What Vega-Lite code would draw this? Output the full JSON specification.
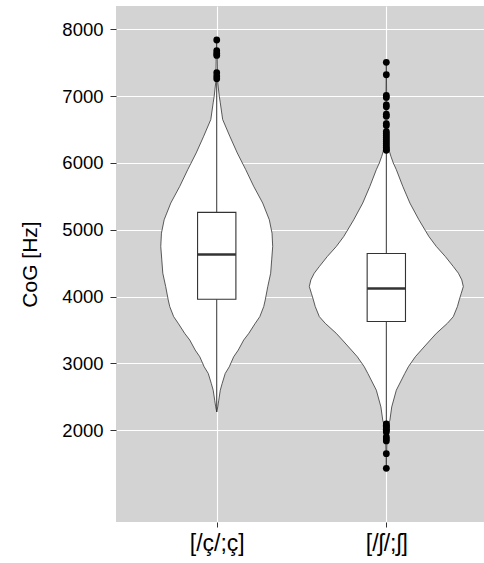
{
  "$schema": "https://vega.github.io/schema/vega-lite/v6.json",
  "width": 368,
  "height": 516,
  "autosize": {"type": "none"},
  "padding": {"left": 116, "top": 6, "right": 0, "bottom": 41},
  "background": "white",
  "config": {
    "font": "Liberation Sans",
    "view": {"fill": "#D3D3D3", "stroke": null},
    "axis": {"domain": false, "grid": true, "gridColor": "white", "gridWidth": 1.1, "tickColor": "#333333", "tickSize": 6, "labelColor": "black", "titleColor": "black", "titleFontWeight": "normal"},
    "axisY": {"labelFontSize": 18.5, "labelPadding": 7, "titleFontSize": 21, "titlePadding": 21},
    "axisX": {"labelFontSize": 23, "labelPadding": 5, "tickSize": 5}
  },
  "datasets": {
    "violin": [
      {"cat": 1, "v": 7850, "lo": 1.0, "hi": 1.0},
      {"cat": 1, "v": 7600, "lo": 0.997, "hi": 1.003},
      {"cat": 1, "v": 7300, "lo": 0.995, "hi": 1.005},
      {"cat": 1, "v": 7200, "lo": 0.994, "hi": 1.006},
      {"cat": 1, "v": 7000, "lo": 0.985, "hi": 1.015},
      {"cat": 1, "v": 6900, "lo": 0.979, "hi": 1.021},
      {"cat": 1, "v": 6650, "lo": 0.965, "hi": 1.035},
      {"cat": 1, "v": 6400, "lo": 0.923, "hi": 1.077},
      {"cat": 1, "v": 6150, "lo": 0.879, "hi": 1.121},
      {"cat": 1, "v": 5900, "lo": 0.829, "hi": 1.171},
      {"cat": 1, "v": 5650, "lo": 0.782, "hi": 1.218},
      {"cat": 1, "v": 5400, "lo": 0.729, "hi": 1.271},
      {"cat": 1, "v": 5150, "lo": 0.690, "hi": 1.310},
      {"cat": 1, "v": 4950, "lo": 0.674, "hi": 1.326},
      {"cat": 1, "v": 4750, "lo": 0.670, "hi": 1.330},
      {"cat": 1, "v": 4550, "lo": 0.676, "hi": 1.324},
      {"cat": 1, "v": 4350, "lo": 0.682, "hi": 1.318},
      {"cat": 1, "v": 4150, "lo": 0.699, "hi": 1.301},
      {"cat": 1, "v": 3950, "lo": 0.714, "hi": 1.286},
      {"cat": 1, "v": 3850, "lo": 0.723, "hi": 1.277},
      {"cat": 1, "v": 3700, "lo": 0.746, "hi": 1.254},
      {"cat": 1, "v": 3600, "lo": 0.773, "hi": 1.227},
      {"cat": 1, "v": 3450, "lo": 0.811, "hi": 1.189},
      {"cat": 1, "v": 3350, "lo": 0.841, "hi": 1.159},
      {"cat": 1, "v": 3200, "lo": 0.873, "hi": 1.127},
      {"cat": 1, "v": 3100, "lo": 0.900, "hi": 1.100},
      {"cat": 1, "v": 2950, "lo": 0.926, "hi": 1.074},
      {"cat": 1, "v": 2850, "lo": 0.950, "hi": 1.050},
      {"cat": 1, "v": 2700, "lo": 0.968, "hi": 1.032},
      {"cat": 1, "v": 2600, "lo": 0.979, "hi": 1.021},
      {"cat": 1, "v": 2450, "lo": 0.988, "hi": 1.012},
      {"cat": 1, "v": 2350, "lo": 0.994, "hi": 1.006},
      {"cat": 1, "v": 2274, "lo": 1.0, "hi": 1.0},
      {"cat": 2, "v": 7500, "lo": 2.0, "hi": 2.0},
      {"cat": 2, "v": 7000, "lo": 1.998, "hi": 2.002},
      {"cat": 2, "v": 6500, "lo": 1.997, "hi": 2.003},
      {"cat": 2, "v": 6300, "lo": 1.994, "hi": 2.006},
      {"cat": 2, "v": 6200, "lo": 1.985, "hi": 2.015},
      {"cat": 2, "v": 6100, "lo": 1.973, "hi": 2.027},
      {"cat": 2, "v": 6000, "lo": 1.959, "hi": 2.041},
      {"cat": 2, "v": 5900, "lo": 1.941, "hi": 2.059},
      {"cat": 2, "v": 5650, "lo": 1.903, "hi": 2.097},
      {"cat": 2, "v": 5400, "lo": 1.861, "hi": 2.139},
      {"cat": 2, "v": 5150, "lo": 1.808, "hi": 2.192},
      {"cat": 2, "v": 4900, "lo": 1.749, "hi": 2.251},
      {"cat": 2, "v": 4750, "lo": 1.705, "hi": 2.295},
      {"cat": 2, "v": 4600, "lo": 1.652, "hi": 2.348},
      {"cat": 2, "v": 4450, "lo": 1.605, "hi": 2.395},
      {"cat": 2, "v": 4350, "lo": 1.575, "hi": 2.425},
      {"cat": 2, "v": 4250, "lo": 1.555, "hi": 2.445},
      {"cat": 2, "v": 4150, "lo": 1.546, "hi": 2.454},
      {"cat": 2, "v": 4050, "lo": 1.558, "hi": 2.442},
      {"cat": 2, "v": 3950, "lo": 1.570, "hi": 2.430},
      {"cat": 2, "v": 3850, "lo": 1.581, "hi": 2.419},
      {"cat": 2, "v": 3700, "lo": 1.605, "hi": 2.395},
      {"cat": 2, "v": 3600, "lo": 1.640, "hi": 2.360},
      {"cat": 2, "v": 3450, "lo": 1.705, "hi": 2.295},
      {"cat": 2, "v": 3350, "lo": 1.741, "hi": 2.259},
      {"cat": 2, "v": 3200, "lo": 1.794, "hi": 2.206},
      {"cat": 2, "v": 3100, "lo": 1.829, "hi": 2.171},
      {"cat": 2, "v": 2950, "lo": 1.870, "hi": 2.130},
      {"cat": 2, "v": 2850, "lo": 1.891, "hi": 2.109},
      {"cat": 2, "v": 2600, "lo": 1.941, "hi": 2.059},
      {"cat": 2, "v": 2350, "lo": 1.968, "hi": 2.032},
      {"cat": 2, "v": 2150, "lo": 1.979, "hi": 2.021},
      {"cat": 2, "v": 2050, "lo": 1.991, "hi": 2.009},
      {"cat": 2, "v": 1900, "lo": 1.996, "hi": 2.004},
      {"cat": 2, "v": 1450, "lo": 2.0, "hi": 2.0}
    ],
    "box": [
      {"cat": 1, "xl": 0.887, "xh": 1.113, "lw": 2274, "q1": 3961, "med": 4631, "q3": 5260, "uw": 7210},
      {"cat": 2, "xl": 1.887, "xh": 2.113, "lw": 2110, "q1": 3627, "med": 4122, "q3": 4646, "uw": 6170}
    ],
    "outliers": [
      {"cat": 1, "v": 7840}, {"cat": 1, "v": 7680}, {"cat": 1, "v": 7640}, {"cat": 1, "v": 7610},
      {"cat": 1, "v": 7350}, {"cat": 1, "v": 7300}, {"cat": 1, "v": 7260},
      {"cat": 2, "v": 7506}, {"cat": 2, "v": 7320}, {"cat": 2, "v": 7010}, {"cat": 2, "v": 6980},
      {"cat": 2, "v": 6870}, {"cat": 2, "v": 6840}, {"cat": 2, "v": 6730}, {"cat": 2, "v": 6700},
      {"cat": 2, "v": 6590}, {"cat": 2, "v": 6560}, {"cat": 2, "v": 6470}, {"cat": 2, "v": 6440},
      {"cat": 2, "v": 6410}, {"cat": 2, "v": 6380}, {"cat": 2, "v": 6350}, {"cat": 2, "v": 6320},
      {"cat": 2, "v": 6290}, {"cat": 2, "v": 6260}, {"cat": 2, "v": 6230}, {"cat": 2, "v": 6210},
      {"cat": 2, "v": 6190},
      {"cat": 2, "v": 2095}, {"cat": 2, "v": 2075}, {"cat": 2, "v": 2055}, {"cat": 2, "v": 2035},
      {"cat": 2, "v": 2015}, {"cat": 2, "v": 1995}, {"cat": 2, "v": 1975}, {"cat": 2, "v": 1900},
      {"cat": 2, "v": 1870}, {"cat": 2, "v": 1840}, {"cat": 2, "v": 1650}, {"cat": 2, "v": 1430}
    ]
  },
  "layer": [
    {
      "data": {"name": "violin"},
      "mark": {"type": "area", "orient": "horizontal", "fill": "white", "stroke": "#333333", "strokeWidth": 0.8},
      "encoding": {
        "y": {"field": "v", "type": "quantitative", "title": "CoG [Hz]", "scale": {"domain": [627, 8349], "nice": false, "zero": false},
          "axis": {"values": [2000, 3000, 4000, 5000, 6000, 7000, 8000], "format": "d"}},
        "x": {"field": "lo", "type": "quantitative", "title": null, "scale": {"domain": [0.406, 2.576], "nice": false, "zero": false},
          "axis": {"values": [1, 2], "labelExpr": "datum.value == 1 ? '[/ç/;ç]' : '[/ʃ/;ʃ]'"}},
        "x2": {"field": "hi"},
        "detail": {"field": "cat", "type": "nominal"}
      }
    },
    {
      "data": {"name": "box"},
      "mark": {"type": "rule", "color": "#333333", "strokeWidth": 1},
      "encoding": {
        "x": {"field": "cat", "type": "quantitative", "title": null},
        "y": {"field": "q3", "type": "quantitative", "title": "CoG [Hz]"},
        "y2": {"field": "uw"}
      }
    },
    {
      "data": {"name": "box"},
      "mark": {"type": "rule", "color": "#333333", "strokeWidth": 1},
      "encoding": {
        "x": {"field": "cat", "type": "quantitative", "title": null},
        "y": {"field": "lw", "type": "quantitative", "title": "CoG [Hz]"},
        "y2": {"field": "q1"}
      }
    },
    {
      "data": {"name": "box"},
      "mark": {"type": "rect", "fill": "white", "stroke": "#333333", "strokeWidth": 1.1},
      "encoding": {
        "x": {"field": "xl", "type": "quantitative", "title": null},
        "x2": {"field": "xh"},
        "y": {"field": "q1", "type": "quantitative", "title": "CoG [Hz]"},
        "y2": {"field": "q3"}
      }
    },
    {
      "data": {"name": "box"},
      "mark": {"type": "rule", "color": "#333333", "strokeWidth": 2.4},
      "encoding": {
        "x": {"field": "xl", "type": "quantitative", "title": null},
        "x2": {"field": "xh"},
        "y": {"field": "med", "type": "quantitative", "title": "CoG [Hz]"}
      }
    },
    {
      "data": {"name": "outliers"},
      "mark": {"type": "point", "shape": "circle", "filled": true, "color": "black", "opacity": 1, "size": 46},
      "encoding": {
        "x": {"field": "cat", "type": "quantitative", "title": null},
        "y": {"field": "v", "type": "quantitative", "title": "CoG [Hz]"}
      }
    }
  ]
}
